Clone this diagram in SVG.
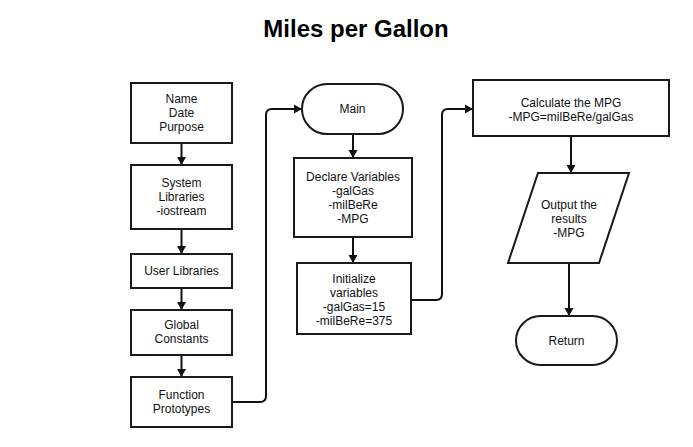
<svg xmlns="http://www.w3.org/2000/svg" width="693" height="447" viewBox="0 0 693 447">
<style>
.shape{fill:#fff;stroke:#1a1a1a;stroke-width:2}
.t{font-family:"Liberation Sans",Arial,sans-serif;font-size:12px;fill:#111;text-anchor:middle}
.title{font-family:"Liberation Sans",Arial,sans-serif;font-size:24px;font-weight:bold;fill:#000;text-anchor:middle}
.c{fill:none;stroke:#111;stroke-width:2}
</style>
<defs>
<marker id="ah" markerUnits="userSpaceOnUse" markerWidth="10" markerHeight="10" refX="8" refY="5" orient="auto" viewBox="0 0 10 10">
<path d="M0,0.5 L8,5 L0,9.5 z" fill="#111"/>
</marker>
</defs>
<rect width="693" height="447" fill="#fff"/>
<text class="title" x="356" y="37">Miles per Gallon</text>

<g id="connectors">
<path class="c" d="M181.5 143 V165" marker-end="url(#ah)"/>
<path class="c" d="M181.5 229 V254" marker-end="url(#ah)"/>
<path class="c" d="M181.5 288 V310" marker-end="url(#ah)"/>
<path class="c" d="M181.5 355 V377" marker-end="url(#ah)"/>
<path class="c" d="M232 402 H260 Q266 402 266 396 V115 Q266 109 272 109 H302" marker-end="url(#ah)"/>
<path class="c" d="M353 134 V158" marker-end="url(#ah)"/>
<path class="c" d="M353 237 V263" marker-end="url(#ah)"/>
<path class="c" d="M411 300 H436 Q442 300 442 294 V115 Q442 109 448 109 H473" marker-end="url(#ah)"/>
<path class="c" d="M571 136 V173" marker-end="url(#ah)"/>
<path class="c" d="M569 263 V316" marker-end="url(#ah)"/>
</g>

<g id="n-name">
<rect class="shape" x="131" y="83" width="101" height="60"/>
<text class="t" x="181.5" y="103">Name</text>
<text class="t" x="181.5" y="117">Date</text>
<text class="t" x="181.5" y="131">Purpose</text>
</g>
<g id="n-syslib">
<rect class="shape" x="131" y="165" width="101" height="64"/>
<text class="t" x="181.5" y="187">System</text>
<text class="t" x="181.5" y="201">Libraries</text>
<text class="t" x="181.5" y="215">-iostream</text>
</g>
<g id="n-userlib">
<rect class="shape" x="131" y="254" width="101" height="34"/>
<text class="t" x="181.5" y="275">User Libraries</text>
</g>
<g id="n-global">
<rect class="shape" x="131" y="310" width="101" height="45"/>
<text class="t" x="181.5" y="329">Global</text>
<text class="t" x="181.5" y="343">Constants</text>
</g>
<g id="n-proto">
<rect class="shape" x="131" y="377" width="101" height="50"/>
<text class="t" x="181.5" y="399">Function</text>
<text class="t" x="181.5" y="413">Prototypes</text>
</g>
<g id="n-main">
<rect class="shape" x="302" y="84" width="101" height="50" rx="25" ry="25"/>
<text class="t" x="352.5" y="113">Main</text>
</g>
<g id="n-declare">
<rect class="shape" x="294" y="158" width="118" height="79"/>
<text class="t" x="353" y="181">Declare Variables</text>
<text class="t" x="353" y="195">-galGas</text>
<text class="t" x="353" y="209">-milBeRe</text>
<text class="t" x="353" y="223">-MPG</text>
</g>
<g id="n-init">
<rect class="shape" x="297" y="263" width="114" height="71"/>
<text class="t" x="354" y="283">Initialize</text>
<text class="t" x="354" y="297">variables</text>
<text class="t" x="354" y="311">-galGas=15</text>
<text class="t" x="354" y="325">-milBeRe=375</text>
</g>
<g id="n-calc">
<rect class="shape" x="473" y="80" width="196" height="56"/>
<text class="t" x="571" y="107">Calculate the MPG</text>
<text class="t" x="571" y="121">-MPG=milBeRe/galGas</text>
</g>
<g id="n-output">
<polygon class="shape" points="538,173 629,173 599,263 508,263"/>
<text class="t" x="569" y="209">Output the</text>
<text class="t" x="569" y="223">results</text>
<text class="t" x="569" y="237">-MPG</text>
</g>
<g id="n-return">
<rect class="shape" x="516" y="316" width="101" height="49" rx="24.5" ry="24.5"/>
<text class="t" x="566.5" y="345">Return</text>
</g>
</svg>
